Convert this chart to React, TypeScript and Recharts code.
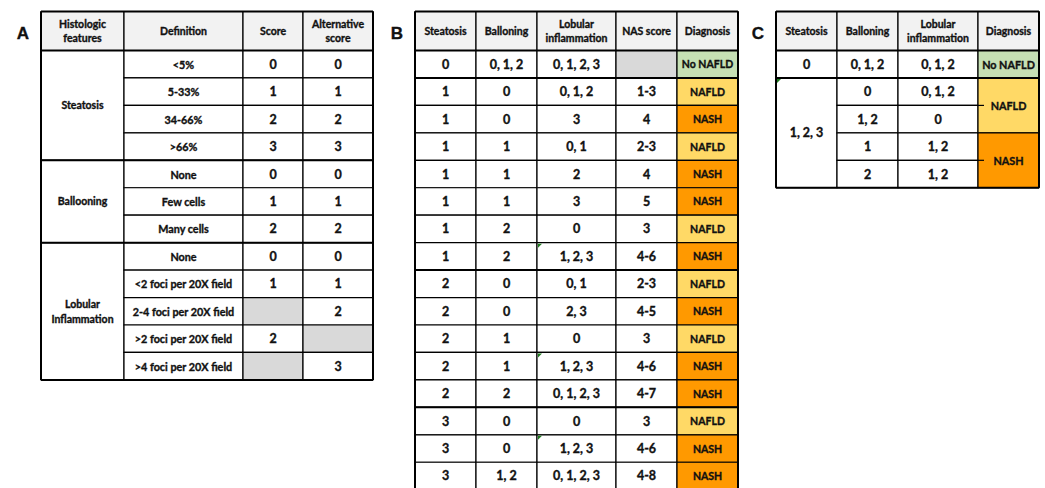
import React from "react";
import {
  ScatterChart,
  Scatter,
  XAxis,
  YAxis,
  ReferenceArea,
  ReferenceLine,
} from "recharts";

// ---- table A: histologic scoring ----
const headersA = [["Histologic", "features"], ["Definition"], ["Score"], ["Alternative", "score"]];
const featuresA = [
  { name: ["Steatosis"], rows: 4 },
  { name: ["Ballooning"], rows: 3 },
  { name: ["Lobular", "Inflammation"], rows: 5 },
];
const definitionsA = [
  "<5%", "5-33%", "34-66%", ">66%",
  "None", "Few cells", "Many cells",
  "None", "<2 foci per 20X field", "2-4 foci per 20X field", ">2 foci per 20X field", ">4 foci per 20X field",
];
const scoresA = ["0", "1", "2", "3", "0", "1", "2", "0", "1", null, "2", null];
const altScoresA = ["0", "1", "2", "3", "0", "1", "2", "0", "1", "2", null, "3"];

// ---- table B: NAS based diagnosis ----
const headersB = [["Steatosis"], ["Balloning"], ["Lobular", "inflammation"], ["NAS score"], ["Diagnosis"]];
const steatosisB = ["0", "1", "1", "1", "1", "1", "1", "1", "2", "2", "2", "2", "2", "3", "3", "3"];
const ballooningB = ["0, 1, 2", "0", "0", "1", "1", "1", "2", "2", "0", "0", "1", "1", "2", "0", "0", "1, 2"];
const lobularB = [
  "0, 1, 2, 3", "0, 1, 2", "3", "0, 1", "2", "3", "0", "1, 2, 3",
  "0, 1", "2, 3", "0", "1, 2, 3", "0, 1, 2, 3", "0", "1, 2, 3", "0, 1, 2, 3",
];
const nasB = [null, "1-3", "4", "2-3", "4", "5", "3", "4-6", "2-3", "4-5", "3", "4-6", "4-7", "3", "4-6", "4-8"];
const diagnosisB = [
  "No NAFLD", "NAFLD", "NASH", "NAFLD", "NASH", "NASH", "NAFLD", "NASH",
  "NAFLD", "NASH", "NAFLD", "NASH", "NASH", "NAFLD", "NASH", "NASH",
];

// ---- table C: simplified algorithm ----
const headersC = [["Steatosis"], ["Balloning"], ["Lobular", "inflammation"], ["Diagnosis"]];
const steatosisC = [{ text: "0", rows: 1 }, { text: "1, 2, 3", rows: 4 }];
const ballooningC = ["0, 1, 2", "0", "1, 2", "1", "2"];
const lobularC = ["0, 1, 2", "0, 1, 2", "0", "1, 2", "1, 2"];
const diagnosisC = [
  { text: "No NAFLD", rows: 1 },
  { text: "NAFLD", rows: 2 },
  { text: "NASH", rows: 2 },
];

// excel "number stored as text" flags (table, column, row)
const flagCells = [
  { table: "B", col: 2, row: 7 },
  { table: "B", col: 2, row: 11 },
  { table: "B", col: 2, row: 14 },
  { table: "C", col: 0, row: 1 },
];

// ---- layout ----
const W = 1045;
const H = 488;
const TOP = 11.5;
const HEAD_BOTTOM = 50.5;
const ROW_H = 27.45;
const colsA = [41, 124, 243, 303, 373];
const colsB = [415, 476, 537, 616, 677, 738];
const colsC = [776, 837, 898, 978, 1039];
const colsOf: Record<string, number[]> = { A: colsA, B: colsB, C: colsC };

const FONT = "Lato, 'Open Sans', sans-serif";
const HEADER_FILL = "#f2f2f2";
const EMPTY_FILL = "#d9d9d9";
const diagColors: Record<string, string> = {
  "No NAFLD": "#c6e0b4",
  NAFLD: "#ffd966",
  NASH: "#ff9900",
};

type Cell = { x0: number; x1: number; r0: number; r1: number; lines: string[]; fill: string; size: number };

const rowY = (r: number) => (r < 0 ? TOP : HEAD_BOTTOM + r * ROW_H);

const headerCells = (cols: number[], headers: string[][]): Cell[] =>
  headers.map((lines, i) => ({ x0: cols[i], x1: cols[i + 1], r0: -1, r1: 0, lines, fill: HEADER_FILL, size: 10.5 }));

const columnCells = (cols: number[], c: number, values: (string | null)[], size: number, fillOf?: (v: string) => string): Cell[] =>
  values.map((v, r) => ({
    x0: cols[c],
    x1: cols[c + 1],
    r0: r,
    r1: r + 1,
    lines: v == null ? [] : [v],
    fill: v == null ? EMPTY_FILL : fillOf ? fillOf(v) : "#fff",
    size,
  }));

const mergedCells = (cols: number[], c: number, groups: { text?: string; name?: string[]; rows: number }[], size: number, fillOf?: (v: string) => string): Cell[] => {
  let start = 0;
  return groups.map((g) => {
    const lines = g.name ?? [g.text as string];
    const cell = {
      x0: cols[c],
      x1: cols[c + 1],
      r0: start,
      r1: start + g.rows,
      lines,
      fill: fillOf ? fillOf(lines[0]) : "#fff",
      size,
    };
    start += g.rows;
    return cell;
  });
};

const cellsA: Cell[] = [
  ...headerCells(colsA, headersA),
  ...mergedCells(colsA, 0, featuresA, 10.5),
  ...columnCells(colsA, 1, definitionsA, 10.8),
  ...columnCells(colsA, 2, scoresA, 12.5),
  ...columnCells(colsA, 3, altScoresA, 12.5),
];

const cellsB: Cell[] = [
  ...headerCells(colsB, headersB),
  ...columnCells(colsB, 0, steatosisB, 12.5),
  ...columnCells(colsB, 1, ballooningB, 12.5),
  ...columnCells(colsB, 2, lobularB, 12.5),
  ...columnCells(colsB, 3, nasB, 12.5),
  ...columnCells(colsB, 4, diagnosisB, 10.5, (v) => diagColors[v]),
];

const cellsC: Cell[] = [
  ...headerCells(colsC, headersC),
  ...mergedCells(colsC, 0, steatosisC, 12.5),
  ...columnCells(colsC, 1, ballooningC, 12.5),
  ...columnCells(colsC, 2, lobularC, 12.5),
  ...mergedCells(colsC, 3, diagnosisC, 10.8, (v) => diagColors[v]),
];

const allCells = [...cellsA, ...cellsB, ...cellsC];

// thick rules: outer frame, header bottom, group breaks
const frame = (cols: number[], rows: number, breaks: number[]) => {
  const x0 = cols[0];
  const x1 = cols[cols.length - 1];
  const yb = rowY(rows);
  return [
    [{ x: x0, y: TOP }, { x: x1, y: TOP }],
    [{ x: x0, y: yb }, { x: x1, y: yb }],
    [{ x: x0, y: TOP }, { x: x0, y: yb }],
    [{ x: x1, y: TOP }, { x: x1, y: yb }],
    [{ x: x0, y: HEAD_BOTTOM }, { x: x1, y: HEAD_BOTTOM }],
    ...breaks.map((r) => [{ x: x0, y: rowY(r) }, { x: x1, y: rowY(r) }]),
  ];
};

const thickLines = [
  ...frame(colsA, definitionsA.length, [4, 7]),
  ...frame(colsB, steatosisB.length, [1, 8, 13]),
  ...frame(colsC, ballooningC.length, [1]),
];

// small border stubs sticking into the merged diagnosis cells of table C
const stubs = [2, 4].map((r) => [{ x: colsC[3], y: rowY(r) }, { x: colsC[3] + 6, y: rowY(r) }]);

const panels = [
  { letter: "A", cols: colsA },
  { letter: "B", cols: colsB },
  { letter: "C", cols: colsC },
];

const labels = [
  ...allCells
    .filter((c) => c.lines.length > 0)
    .map((c) => ({
      x: (c.x0 + c.x1) / 2,
      y: (rowY(c.r0) + rowY(c.r1)) / 2,
      lines: c.lines,
      size: c.size,
      family: FONT,
    })),
  ...panels.map((p) => ({
    x: p.cols[0] - 18,
    y: 33,
    lines: [p.letter],
    size: 17,
    family: "'Liberation Sans', Arial, sans-serif",
  })),
];

const flags = flagCells.map((f) => ({ x: colsOf[f.table][f.col] + 1, y: rowY(f.row) + 1 }));

function CellLabel(props: any) {
  const { cx, cy, payload } = props;
  const lines: string[] = payload.lines;
  const lh = 14.5;
  const y0 = cy - ((lines.length - 1) * lh) / 2;
  return (
    <g>
      {lines.map((l, i) => (
        <text
          key={i}
          x={cx}
          y={y0 + i * lh}
          textAnchor="middle"
          dominantBaseline="central"
          fontFamily={payload.family}
          fontSize={payload.size}
          fontWeight="bold"
          fill="#111"
          stroke="#111"
          strokeWidth={0.35}
        >
          {l}
        </text>
      ))}
    </g>
  );
}

function Flag(props: any) {
  const { cx, cy } = props;
  return <polygon points={`${cx},${cy} ${cx + 4},${cy} ${cx},${cy + 4}`} fill="#1e7b1e" />;
}

export default function App() {
  return (
    <div style={{ position: "absolute", left: 0, top: 0, width: W, height: H, background: "#fff" }}>
      <ScatterChart width={W} height={H} margin={{ top: 0, right: 0, bottom: 0, left: 0 }}>
        <XAxis type="number" dataKey="x" domain={[0, W]} hide allowDataOverflow />
        <YAxis type="number" dataKey="y" domain={[0, H]} reversed hide allowDataOverflow />
        {allCells.map((c, i) => (
          <ReferenceArea
            key={`cell-${i}`}
            x1={c.x0}
            x2={c.x1}
            y1={rowY(c.r0)}
            y2={rowY(c.r1)}
            fill={c.fill}
            fillOpacity={1}
            stroke="#000"
            strokeWidth={1.2}
            ifOverflow="visible"
          />
        ))}
        {stubs.map((s, i) => (
          <ReferenceLine key={`stub-${i}`} segment={s} stroke="#000" strokeWidth={1.2} ifOverflow="visible" />
        ))}
        {thickLines.map((s, i) => (
          <ReferenceLine key={`rule-${i}`} segment={s} stroke="#000" strokeWidth={2} ifOverflow="visible" />
        ))}
        <Scatter data={flags} isAnimationActive={false} shape={Flag} />
        <Scatter data={labels} isAnimationActive={false} shape={CellLabel} />
      </ScatterChart>
    </div>
  );
}
